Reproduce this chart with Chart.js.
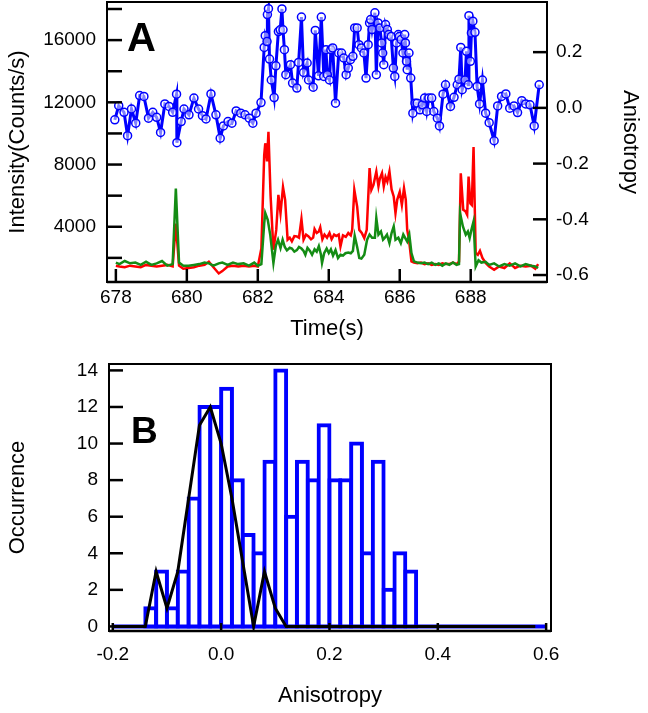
<!DOCTYPE html>
<html>
<head>
<meta charset="utf-8">
<script src="https://cdn.jsdelivr.net/npm/chart.js@4.4.1/dist/chart.umd.min.js"></script>
<style>
    body { margin: 0; background: #fff; }
    #cajaA { position: absolute; left: 0; top: 0; }
    #cajaB { position: absolute; left: 0; top: 345px; }
</style>
</head>
<body>
<div id="cajaA"><canvas id="graficaA" width="648" height="345"></canvas></div>
<div id="cajaB"><canvas id="graficaB" width="648" height="368"></canvas></div>
<script>
// Panel A: anisotropia (eje derecho)
const anisoTime = [677.97, 678.08, 678.23, 678.33, 678.44, 678.56, 678.67, 678.79, 678.92, 679.04, 679.15, 679.26, 679.38, 679.50, 679.60, 679.71, 679.72, 679.84, 679.92, 680.06, 680.20, 680.33, 680.44, 680.54, 680.68, 680.82, 680.94, 681.03, 681.16, 681.27, 681.39, 681.52, 681.64, 681.76, 681.86, 681.95, 682.09, 682.18, 682.21, 682.26, 682.27, 682.30, 682.33, 682.38, 682.46, 682.51, 682.58, 682.63, 682.68, 682.71, 682.75, 682.79, 682.92, 682.98, 683.10, 683.15, 683.23, 683.29, 683.39, 683.43, 683.56, 683.62, 683.71, 683.79, 683.86, 683.92, 683.96, 684.02, 684.06, 684.11, 684.19, 684.28, 684.36, 684.42, 684.49, 684.55, 684.61, 684.68, 684.73, 684.80, 684.85, 684.92, 684.99, 685.05, 685.11, 685.15, 685.18, 685.22, 685.30, 685.34, 685.39, 685.44, 685.49, 685.52, 685.55, 685.60, 685.65, 685.69, 685.76, 685.82, 685.86, 685.91, 685.96, 685.99, 686.04, 686.09, 686.14, 686.16, 686.19, 686.21, 686.26, 686.31, 686.37, 686.43, 686.49, 686.57, 686.64, 686.70, 686.76, 686.82, 686.90, 686.96, 687.06, 687.12, 687.22, 687.29, 687.43, 687.53, 687.62, 687.67, 687.72, 687.76, 687.84, 687.88, 687.93, 687.95, 687.99, 688.02, 688.06, 688.12, 688.18, 688.25, 688.33, 688.42, 688.52, 688.66, 688.76, 688.87, 688.99, 689.10, 689.22, 689.32, 689.44, 689.55, 689.67, 689.79, 689.93];
const anisoValue = [-0.043, 0.008, -0.016, -0.100, -0.004, -0.055, 0.044, 0.041, -0.037, -0.016, -0.034, -0.088, 0.014, 0.005, -0.016, 0.049, -0.125, -0.049, -0.004, -0.025, 0.035, -0.004, -0.028, -0.040, 0.050, -0.025, -0.109, -0.065, -0.049, -0.055, -0.011, -0.019, -0.025, -0.037, -0.055, -0.019, 0.019, 0.217, 0.259, 0.238, 0.335, 0.356, 0.175, 0.100, 0.037, 0.151, 0.274, 0.280, 0.355, 0.280, 0.209, 0.119, 0.155, 0.089, 0.071, 0.163, 0.326, 0.127, 0.161, 0.100, 0.074, 0.278, 0.115, 0.326, 0.113, 0.209, 0.119, 0.100, 0.209, 0.215, 0.017, 0.197, 0.197, 0.179, 0.119, 0.143, 0.173, 0.185, 0.287, 0.287, 0.227, 0.215, 0.197, 0.107, 0.227, 0.305, 0.317, 0.281, 0.341, 0.119, 0.305, 0.287, 0.233, 0.197, 0.155, 0.299, 0.281, 0.263, 0.256, 0.143, 0.113, 0.233, 0.263, 0.256, 0.245, 0.197, 0.263, 0.233, 0.167, 0.137, 0.197, 0.107, -0.019, 0.017, 0.017, -0.007, 0.011, 0.035, -0.013, 0.035, 0.035, -0.013, -0.037, -0.065, 0.049, 0.083, 0.005, 0.038, 0.083, 0.103, 0.217, 0.065, 0.100, 0.203, 0.083, 0.331, 0.167, 0.269, 0.311, 0.271, 0.077, 0.014, 0.100, -0.019, -0.053, -0.118, 0.007, 0.041, 0.050, -0.001, 0.007, -0.017, 0.026, 0.014, 0.011, -0.065, 0.083];

// Panel A: intensidades (eje izquierdo)
const redTime = [678.00, 678.10, 678.25, 678.40, 678.55, 678.70, 678.85, 679.00, 679.15, 679.30, 679.45, 679.60, 679.69, 679.78, 679.90, 680.05, 680.20, 680.35, 680.50, 680.62, 680.75, 680.90, 681.00, 681.15, 681.30, 681.45, 681.60, 681.75, 681.90, 682.00, 682.10, 682.18, 682.21, 682.26, 682.30, 682.36, 682.44, 682.52, 682.58, 682.64, 682.71, 682.77, 682.84, 682.90, 682.96, 683.03, 683.10, 683.16, 683.23, 683.29, 683.36, 683.43, 683.50, 683.56, 683.60, 683.66, 683.72, 683.76, 683.82, 683.88, 683.95, 684.02, 684.08, 684.15, 684.21, 684.28, 684.33, 684.40, 684.48, 684.55, 684.62, 684.66, 684.72, 684.80, 684.86, 684.93, 685.00, 685.07, 685.15, 685.20, 685.26, 685.34, 685.40, 685.44, 685.50, 685.55, 685.60, 685.65, 685.71, 685.77, 685.83, 685.88, 685.93, 686.00, 686.06, 686.12, 686.17, 686.21, 686.26, 686.33, 686.40, 686.50, 686.60, 686.70, 686.80, 686.90, 687.00, 687.10, 687.20, 687.30, 687.40, 687.50, 687.60, 687.67, 687.72, 687.79, 687.85, 687.90, 687.94, 687.99, 688.03, 688.08, 688.14, 688.20, 688.26, 688.33, 688.42, 688.52, 688.66, 688.80, 688.95, 689.10, 689.25, 689.40, 689.55, 689.70, 689.82, 689.90];
const redValue = [1500, 1450, 1400, 1500, 1450, 1400, 1550, 1500, 1450, 1500, 1550, 1450, 4200, 1500, 1300, 1350, 1400, 1500, 1550, 1750, 1400, 1000, 1150, 1450, 1500, 1450, 1500, 1450, 1500, 1450, 2600, 8600, 9370, 8200, 10100, 6000, 2520, 3800, 6050, 4880, 6550, 5730, 3170, 3300, 3060, 3400, 3380, 3300, 4490, 3170, 3500, 3380, 3200, 3300, 3850, 3600, 3700, 3960, 3200, 3500, 3300, 3600, 3200, 3500, 3400, 3500, 2740, 3450, 3350, 3600, 3450, 3810, 6375, 5300, 3800, 3600, 3275, 3800, 7770, 6375, 6700, 7550, 6600, 7100, 7450, 6600, 7200, 6900, 7550, 6400, 5950, 4880, 5750, 6250, 5400, 6480, 5750, 3810, 3170, 1780, 1700, 1650, 1700, 1600, 1650, 1550, 1600, 1550, 1650, 1600, 1600, 1700, 1600, 1750, 7440, 5090, 5000, 4770, 7230, 5500, 5400, 9120, 2310, 2200, 2450, 2000, 1670, 1450, 1240, 1450, 1350, 1650, 1350, 1500, 1450, 1500, 1300, 1600];
const greenTime = [678.00, 678.10, 678.25, 678.40, 678.55, 678.70, 678.85, 679.00, 679.15, 679.30, 679.45, 679.60, 679.69, 679.78, 679.90, 680.05, 680.20, 680.35, 680.50, 680.62, 680.75, 680.90, 681.00, 681.15, 681.30, 681.45, 681.60, 681.75, 681.90, 682.00, 682.10, 682.18, 682.21, 682.28, 682.35, 682.44, 682.51, 682.57, 682.64, 682.70, 682.76, 682.82, 682.90, 682.96, 683.03, 683.10, 683.16, 683.23, 683.29, 683.34, 683.40, 683.47, 683.53, 683.60, 683.66, 683.72, 683.78, 683.81, 683.87, 683.94, 684.00, 684.06, 684.12, 684.19, 684.26, 684.33, 684.40, 684.47, 684.55, 684.62, 684.68, 684.73, 684.80, 684.86, 684.92, 685.00, 685.08, 685.15, 685.22, 685.30, 685.34, 685.40, 685.47, 685.53, 685.58, 685.64, 685.71, 685.77, 685.83, 685.88, 685.96, 686.03, 686.10, 686.16, 686.21, 686.27, 686.33, 686.40, 686.50, 686.60, 686.70, 686.80, 686.90, 687.00, 687.10, 687.20, 687.30, 687.40, 687.50, 687.60, 687.67, 687.70, 687.78, 687.86, 687.92, 687.97, 688.02, 688.08, 688.14, 688.22, 688.30, 688.42, 688.52, 688.66, 688.80, 688.95, 689.10, 689.25, 689.40, 689.55, 689.70, 689.82, 689.90];
const greenValue = [1700, 1600, 1800, 1650, 1700, 1550, 1750, 1550, 1650, 1800, 1500, 1600, 6450, 1700, 1500, 1500, 1550, 1600, 1700, 1650, 1500, 1650, 1700, 1550, 1700, 1600, 1650, 1500, 1700, 1500, 1600, 4200, 4880, 4450, 3490, 1670, 2800, 3170, 2630, 3170, 2700, 2480, 2650, 2600, 2400, 2500, 2700, 2600, 2450, 2200, 2650, 2450, 2200, 2550, 2400, 2750, 2200, 1670, 2300, 2600, 2310, 2550, 2150, 2500, 1990, 2200, 2150, 2300, 2350, 2300, 2450, 3420, 2700, 1990, 1950, 2200, 3170, 3500, 3300, 3300, 4560, 3500, 3700, 3170, 3300, 3500, 2950, 3600, 4020, 3170, 3300, 2950, 3500, 3250, 3050, 3500, 2310, 1780, 1700, 1650, 1700, 1600, 1700, 1550, 1650, 1500, 1650, 1550, 1700, 1550, 1600, 4880, 4020, 3490, 3700, 3275, 3800, 4340, 1450, 1850, 1700, 1750, 1550, 1650, 1450, 1600, 1500, 1650, 1450, 1600, 1500, 1450, 1350];

const timeTicks = [678, 680, 682, 684, 686, 688];
const intensityTicks = [2000, 4000, 6000, 8000, 10000, 12000, 14000, 16000, 18000];
const anisoTicks = [-0.6, -0.4, -0.2, 0.0, 0.2];

// Panel B: histograma (centro de cada intervalo de 0.02)
const histCenter = [-0.13, -0.11, -0.09, -0.07, -0.05, -0.03, -0.01, 0.01, 0.03, 0.05, 0.07, 0.09, 0.11, 0.13, 0.15, 0.17, 0.19, 0.21, 0.23, 0.25, 0.27, 0.29, 0.31, 0.33, 0.35];
const histCount = [1, 3, 1, 3, 7, 12, 12, 13, 8, 5, 4, 9, 14, 6, 9, 8, 11, 8, 8, 10, 4, 9, 2, 4, 3];
const fitX = [-0.20, -0.14, -0.12, -0.10, -0.08, -0.06, -0.04, -0.02, 0.00, 0.02, 0.04, 0.06, 0.08, 0.10, 0.12, 0.58];
const fitY = [0, 0, 3, 1, 3, 7, 11, 12, 10, 7, 3.5, 0, 3, 1, 0, 0];
const baseX = [-0.2, 0.6];
const baseY = [0, 0];
const histXTicks = [-0.2, 0.0, 0.2, 0.4, 0.6];
const countTicks = [0, 2, 4, 6, 8, 10, 12, 14];

Chart.defaults.font.family = '"Liberation Sans", Arial, sans-serif';
Chart.defaults.color = '#000';

function pares(xs, ys) {
    return xs.map(function (x, i) { return {x: x, y: ys[i]}; });
}

// Marco negro y marcas de escala hacia dentro, mas la letra del panel
const marcoEjes = {
    id: 'marcoEjes',
    afterDraw: function (chart, args, opts) {
        var ctx = chart.ctx;
        var a = chart.chartArea;
        ctx.save();
        ctx.strokeStyle = '#000';
        ctx.lineWidth = 2;
        ctx.strokeRect(a.left, a.top, a.right - a.left, a.bottom - a.top);
        ctx.lineWidth = 2.5;
        ctx.beginPath();
        ctx.moveTo(a.left, a.bottom);
        ctx.lineTo(a.right, a.bottom);
        ctx.stroke();
        Object.keys(opts.len).forEach(function (id) {
            var s = chart.scales[id];
            s.ticks.forEach(function (t) {
                var p = s.getPixelForValue(t.value);
                ctx.beginPath();
                if (s.isHorizontal()) {
                    ctx.moveTo(p, a.bottom);
                    ctx.lineTo(p, a.bottom - opts.len[id]);
                } else if (s.position === 'left') {
                    ctx.moveTo(a.left, p);
                    ctx.lineTo(a.left + opts.len[id], p);
                } else {
                    ctx.moveTo(a.right, p);
                    ctx.lineTo(a.right - opts.len[id], p);
                }
                ctx.stroke();
            });
        });
        ctx.fillStyle = '#000';
        ctx.font = 'bold ' + opts.letterSize + 'px "Liberation Sans", Arial, sans-serif';
        ctx.fillText(opts.letter, a.left + opts.letterX, a.top + opts.letterY);
        ctx.restore();
    }
};

function fijarTicks(lista) {
    return function (s) { s.ticks = lista.map(function (v) { return {value: v}; }); };
}

// tamaño fijo de la caja de cada eje, sin relleno extra por las etiquetas
function caja(medida, valor) {
    return function (s) {
        s[medida] = valor;
        s.paddingTop = 0;
        s.paddingBottom = 0;
        s.paddingLeft = 0;
        s.paddingRight = 0;
    };
}

var tickFont = {size: 19};
var titleFont = {size: 22};
var sinRejilla = {display: false, drawTicks: false};

var graficaA = new Chart('graficaA', {
    type: 'line',
    data: {
        datasets: [{
                label: 'Anisotropy',
                data: pares(anisoTime, anisoValue),
                yAxisID: 'y1',
                borderColor: '#0000ff',
                borderWidth: 3,
                pointRadius: 4,
                pointBorderWidth: 1.5,
                pointBorderColor: '#0000ff',
                pointBackgroundColor: 'rgba(255,255,255,0.5)'
            }, {
                label: 'Green',
                data: pares(greenTime, greenValue),
                yAxisID: 'y',
                borderColor: 'rgb(20,140,20)',
                borderWidth: 2.5,
                pointRadius: 0
            }, {
                label: 'Red',
                data: pares(redTime, redValue),
                yAxisID: 'y',
                borderColor: 'rgb(255,0,0)',
                borderWidth: 2.5,
                pointRadius: 0
            }]
    },
    options: {
        responsive: false,
        animation: false,
        layout: {padding: {top: 2, left: 0, right: 0, bottom: 0}, autoPadding: false},
        plugins: {
            legend: {display: false},
            tooltip: {enabled: false},
            marcoEjes: {len: {x: 13, y: 15, y1: 14}, letter: 'A', letterX: 20, letterY: 49, letterSize: 40}
        },
        scales: {
            x: {
                type: 'linear',
                min: 677.75,
                max: 690.15,
                afterBuildTicks: fijarTicks(timeTicks),
                afterFit: caja('height', 63),
                grid: sinRejilla,
                border: {display: false},
                ticks: {font: tickFont, padding: 4, maxRotation: 0},
                title: {display: true, text: 'Time(s)', font: titleFont, padding: {top: 0, bottom: 3}}
            },
            y: {
                type: 'linear',
                position: 'left',
                min: 450,
                max: 18450,
                afterBuildTicks: fijarTicks(intensityTicks),
                afterFit: caja('width', 107),
                grid: sinRejilla,
                border: {display: false},
                ticks: {
                    font: tickFont,
                    padding: 11,
                    callback: function (v) { return v % 4000 === 0 ? String(v) : ''; }
                },
                title: {display: true, text: 'Intensity(Counts/s)', font: titleFont, padding: {top: 5, bottom: 0}}
            },
            y1: {
                type: 'linear',
                position: 'right',
                min: -0.625,
                max: 0.38,
                afterBuildTicks: fijarTicks(anisoTicks),
                afterFit: caja('width', 101),
                grid: sinRejilla,
                border: {display: false},
                ticks: {font: tickFont, padding: 9, callback: function (v) { return v.toFixed(1); }},
                title: {display: true, text: 'Anisotropy', font: titleFont, padding: {top: 5, bottom: 0}}
            }
        }
    },
    plugins: [marcoEjes]
});

var graficaB = new Chart('graficaB', {
    type: 'bar',
    data: {
        datasets: [{
                type: 'line',
                label: 'Ajuste',
                data: pares(fitX, fitY),
                borderColor: '#000',
                borderWidth: 3,
                pointRadius: 0,
                tension: 0
            }, {
                type: 'bar',
                label: 'Occurrence',
                data: pares(histCenter, histCount),
                backgroundColor: '#ffffff',
                borderColor: '#0000ff',
                borderWidth: 4,
                borderSkipped: false,
                inflateAmount: 2,
                barPercentage: 1,
                categoryPercentage: 1
            }, {
                type: 'line',
                label: 'Base',
                data: pares(baseX, baseY),
                borderColor: '#0000ff',
                borderWidth: 4,
                pointRadius: 0
            }]
    },
    options: {
        responsive: false,
        animation: false,
        layout: {padding: {top: 19, left: 0, right: 97, bottom: 0}, autoPadding: false},
        plugins: {
            legend: {display: false},
            tooltip: {enabled: false},
            marcoEjes: {len: {x: 8, y: 14}, letter: 'B', letterX: 22, letterY: 79, letterSize: 37}
        },
        scales: {
            x: {
                type: 'linear',
                offset: false,
                min: -0.207,
                max: 0.609,
                afterBuildTicks: fijarTicks(histXTicks),
                afterFit: caja('height', 82),
                grid: {display: false, drawTicks: false, offset: false},
                border: {display: false},
                ticks: {font: tickFont, padding: 12, maxRotation: 0, callback: function (v) { return v.toFixed(1); }},
                title: {display: true, text: 'Anisotropy', font: titleFont, padding: {top: 0, bottom: 4}}
            },
            y: {
                type: 'linear',
                position: 'left',
                min: -0.25,
                max: 14.35,
                afterBuildTicks: fijarTicks(countTicks),
                afterFit: caja('width', 109),
                grid: sinRejilla,
                border: {display: false},
                ticks: {font: tickFont, padding: 11},
                title: {display: true, text: 'Occurrence', font: titleFont, padding: {top: 5, bottom: 0}}
            }
        }
    },
    plugins: [marcoEjes]
});
</script>
</body>
</html>
